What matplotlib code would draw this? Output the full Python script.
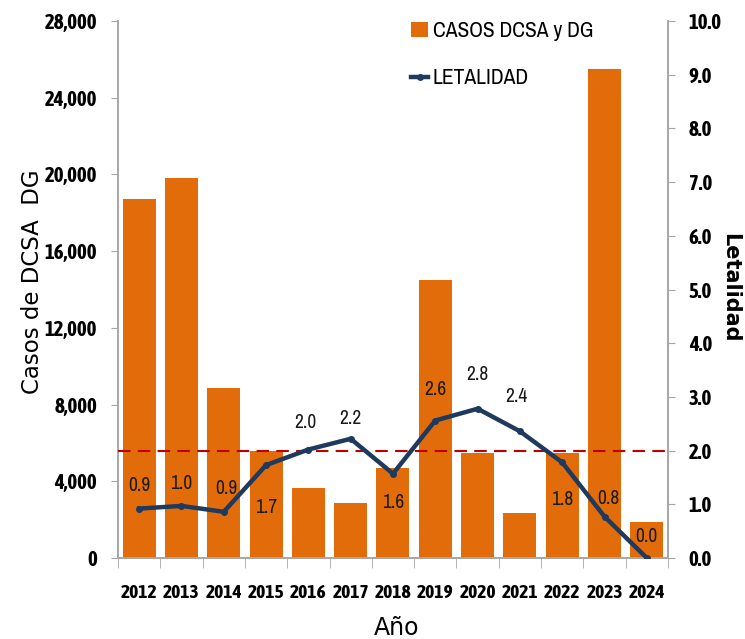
import matplotlib
matplotlib.use("Agg")
import matplotlib.pyplot as plt
import numpy as np

# data
years = ["2012", "2013", "2014", "2015", "2016", "2017", "2018",
         "2019", "2020", "2021", "2022", "2023", "2024"]
casos = [18700, 19800, 8870, 5600, 3650, 2870, 4700,
         14500, 5480, 2350, 5500, 25500, 1880]
letalidad = [0.92, 0.97, 0.86, 1.73, 2.02, 2.22, 1.57,
             2.56, 2.78, 2.36, 1.78, 0.77, 0.0]
umbral = 2.0

# where each data label sits relative to its point (pixels)
lab_off = [(0, 23), (0, 22), (3, 23), (0, -42), (-3, 27), (0, 20), (0, -29),
           (0, 31), (0, 34), (-4, 35), (0, -37), (4, 18), (0, 21)]

naranja = "#E36C0A"
azul = "#1F3A5F"
gris = "#A6A6A6"
narrow = ["Archivo Narrow", "DejaVu Sans"]
narrow_b = ["Asap Condensed", "Archivo Narrow", "DejaVu Sans"]

fig = plt.figure(figsize=(7.45, 6.39), dpi=100)
ax = fig.add_axes([0.1584, 0.1268, 0.7382, 0.8402])
ax2 = ax.twinx()

x = np.arange(len(years))
bars = ax.bar(x, casos, width=0.78, color=naranja, zorder=2, label="CASOS DCSA y DG")
ax.set_xlim(-0.5, len(years) - 0.5)
ax.set_ylim(0, 28000)
ax.set_yticks(np.arange(0, 28001, 4000))
ax.set_yticklabels(["{:,}".format(v) for v in range(0, 28001, 4000)],
                   family=narrow_b, fontsize=15, fontweight="bold")
ax.set_xticks(x)
ax.set_xticklabels(years, family=narrow_b, fontsize=14, fontweight="bold")
ax.set_xticks(np.arange(-0.5, len(years), 1), minor=True)
ax.tick_params(axis="x", which="major", length=0, pad=19)
ax.tick_params(axis="x", which="minor", length=7, color=gris, direction="out")
ax.tick_params(axis="y", length=5, color=gris, pad=10)

ax.spines["top"].set_visible(False)
ax2.spines["top"].set_visible(False)
for a in (ax, ax2):
    for s in ["left", "right", "bottom"]:
        a.spines[s].set_color(gris)
        a.spines[s].set_linewidth(1.2)

ax2.set_ylim(0, 10)
ax2.set_yticks(np.arange(0, 10.01, 1))
ax2.set_yticklabels(["{:.1f}".format(v) for v in np.arange(0, 10.01, 1)],
                    family=narrow_b, fontsize=15, fontweight="bold")
ax2.tick_params(axis="y", length=5, color=gris, pad=10)

ax2.axhline(umbral, color="#C00000", linestyle=(0, (6, 3.5)), linewidth=1.5, zorder=3)
line, = ax2.plot(x, letalidad, color=azul, linewidth=3.2, marker="o", markersize=4,
                 zorder=4, label="LETALIDAD")

for i, v in enumerate(letalidad):
    dx, dy = lab_off[i]
    ax2.annotate("{:.1f}".format(v), (x[i], v), xytext=(dx, dy),
                 textcoords="offset pixels", ha="center", va="center",
                 family=narrow, fontsize=14, color="#1a1a1a", zorder=5)

fig.text(33 / 745, 1 - 282 / 639, "Casos de DCSA  DG", rotation=90, ha="center",
         va="center", family="DejaVu Sans", fontsize=16.5)
fig.text(397 / 745, 1 - 628 / 639, "Año", ha="center", va="center",
         family="DejaVu Sans", fontsize=17)
fig.text(730 / 745, 1 - 288 / 639, "Letalidad", rotation=270, ha="center",
         va="center", family="DejaVu Sans", fontsize=15, fontweight="bold")

leg = fig.legend(handles=[bars, line], loc="upper left", bbox_to_anchor=(0.526, 0.997),
                 frameon=False, labelspacing=1.25, handlelength=0.8, handletextpad=0.2,
                 prop={"family": narrow, "size": 15.5})

fig.savefig("out.png", dpi=100)
